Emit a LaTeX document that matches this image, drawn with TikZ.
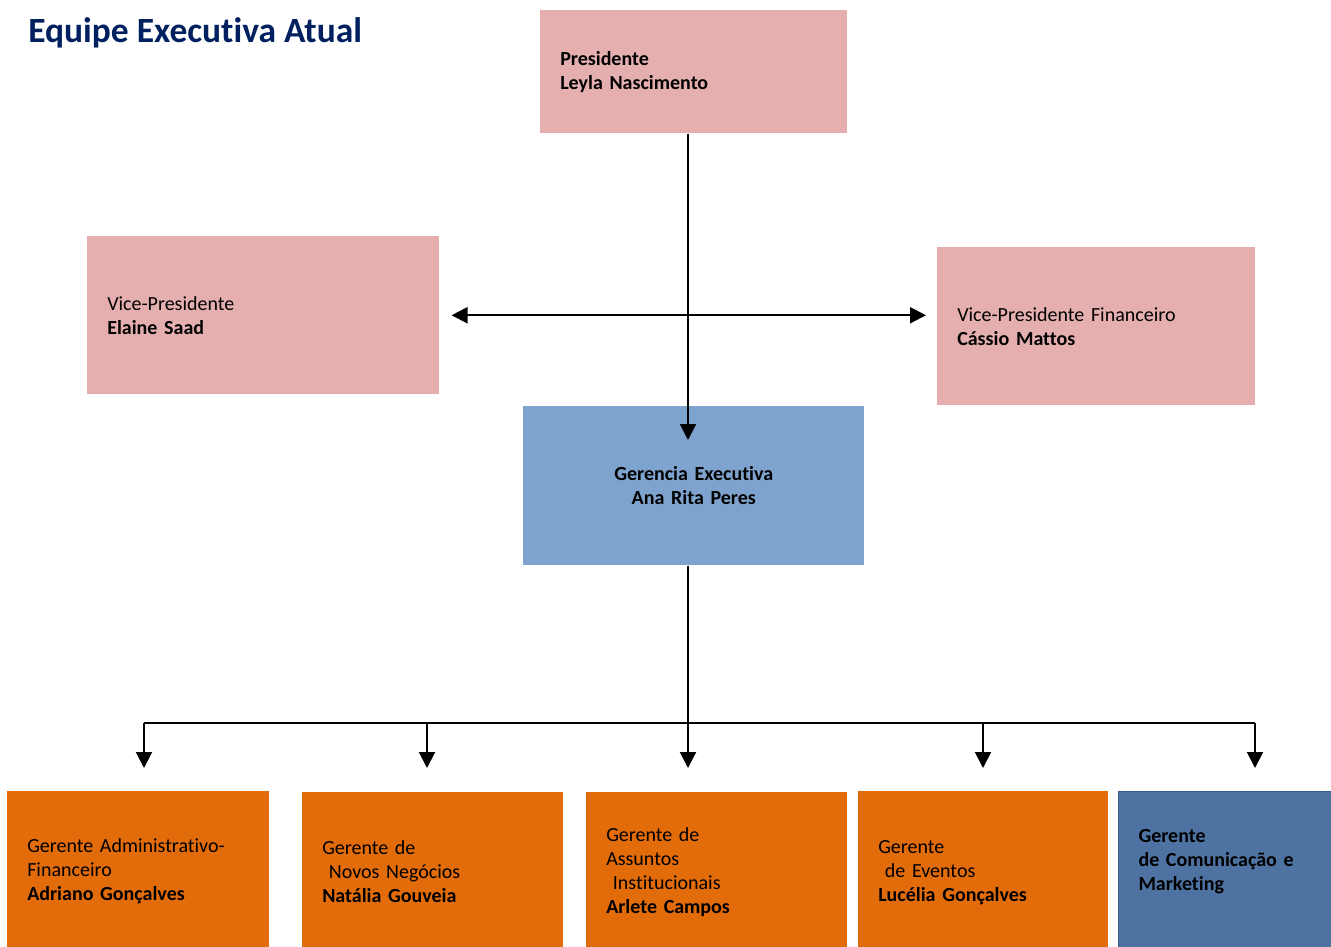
\documentclass[tikz,border=0pt]{standalone}
\usepackage{fontspec}
\setmainfont{Carlito}[Ligatures=NoCommon]
\usetikzlibrary{arrows.meta,positioning}
\definecolor{rose}{HTML}{E4AFAE}
\definecolor{sky}{HTML}{7EA3CE}
\definecolor{ember}{HTML}{E36C0A}
\definecolor{steel}{HTML}{4E73A3}
\definecolor{steeledge}{HTML}{3A5E8C}
\definecolor{navy}{HTML}{002060}
\tikzset{
    link/.style = {line width=1.5pt},
    tip/.style = {-{Triangle[width=12pt,length=12pt]}},
    twotip/.style = {{Triangle[width=12pt,length=12pt]}-{Triangle[width=12pt,length=12pt]}},
    box/.style = {rectangle, anchor=north west, inner xsep=15pt, inner ysep=0pt,
                  align=left, font=\fontsize{15}{18}\selectfont},
    board/.style = {box, fill=rose},
    chief/.style = {box, fill=sky, align=center},
    manager/.style = {box, fill=ember},
    media/.style = {box, fill=steel, draw=steeledge, line width=0.75pt},
    heading/.style = {anchor=base west, inner sep=0pt, text=navy,
                      font=\fontsize{26.6}{30}\selectfont\bfseries}
}

\begin{document}
\begin{tikzpicture}[x=0.75pt,y=-0.75pt]
    \useasboundingbox (0,0) rectangle (1331,946);
    \node[heading] (title) at (28,42) {Equipe Executiva Atual};

    % direction
    \node[board, text width=200.25pt, minimum height=92.25pt] (pres) at (540,10)
        {\textbf{Presidente}\\\textbf{Leyla Nascimento}};
    \node[board, text width=234pt, minimum height=118.5pt] (vp) at (87,236)
        {Vice-Presidente\\\textbf{Elaine Saad}};
    \node[board, text width=208.5pt, minimum height=118.5pt] (vpf) at (937,247)
        {Vice-Presidente Financeiro\\\textbf{Cássio Mattos}};
    \node[chief, text width=225.75pt, minimum height=119.25pt] (ger) at (523,406)
        {\textbf{Gerencia Executiva}\\\textbf{Ana Rita Peres}};

    % gerentes
    \node[manager, text width=166.5pt, minimum height=120pt] (adm) at (7,791)
        {Gerente Administrativo-\\Financeiro\\\textbf{Adriano Gonçalves}};
    \node[manager, text width=165.75pt, minimum height=118.5pt] (neg) at (302,792)
        {Gerente de\\\ Novos Negócios\\\textbf{Natália Gouveia}};
    \node[manager, text width=165.75pt, minimum height=120pt] (ins) at (586,792)
        {Gerente de\\Assuntos\\\ Institucionais\\\textbf{Arlete Campos}};
    \node[manager, text width=157.5pt, minimum height=121.5pt] (evt) at (858,791)
        {Gerente\\\ de Eventos\\\textbf{Lucélia Gonçalves}};
    \node[media, text width=132pt, minimum height=120pt] (mkt) at (1118,791)
        {\textbf{Gerente}\\\textbf{de Comunicação e}\\\textbf{Marketing}\\\mbox{}};

    \coordinate (spine) at (688,440);
    \coordinate (hub) at (688,723);
    \foreach \x/\n in {144/a,427/b,688/c,983/d,1255/e}
        \coordinate (drop-\n) at (\x,768);

    \draw[link,tip] (pres.south -| spine) -- (spine);
    \draw[link,twotip,shorten <=9pt,shorten >=8.25pt] (vp.east) -- (vp.east -| vpf.west);
    \draw[link] (ger.south -| hub) -- (hub);
    \draw[link] (drop-a |- hub) -- (drop-e |- hub);
    \foreach \n in {a,b,c,d,e}
        \draw[link,tip] (drop-\n |- hub) -- (drop-\n);
\end{tikzpicture}
\end{document}
